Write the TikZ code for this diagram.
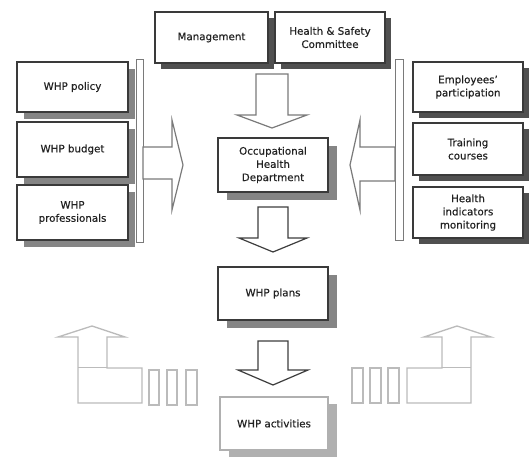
\documentclass[tikz,border=0pt]{standalone}
\usepackage{fontspec}
\setmainfont{DejaVu Sans}[FakeBold=0.4]
\usetikzlibrary{shadows}
\definecolor{boxline}{HTML}{3A3A3A}
\definecolor{txt}{HTML}{222222}
\definecolor{shdark}{HTML}{505050}
\definecolor{shmid}{HTML}{858585}
\definecolor{arrgray}{HTML}{7A7A7A}
\definecolor{arrdark}{HTML}{3E3E3E}
\definecolor{lightline}{HTML}{BBBBBB}
\definecolor{actline}{HTML}{B0B0B0}
\begin{document}
\begin{tikzpicture}[x=1pt,y=-1pt,
  box/.style={draw=boxline, line width=1.3pt, fill=white, align=center, text=txt,
    font=\fontsize{10.3}{13.2}\selectfont, inner sep=0pt},
  sdark/.style={general shadow={fill=shdark, shadow xshift=6pt, shadow yshift=-6pt}},
  smid/.style={general shadow={fill=shmid, shadow xshift=7pt, shadow yshift=-7pt}},
  scen/.style={general shadow={fill=shmid, shadow xshift=9pt, shadow yshift=-8pt}},
  bar/.style={draw=arrgray, line width=1pt, fill=white},
  blockarrow/.style={draw=arrgray, line width=1.2pt, fill=white, line join=miter},
  darkarrow/.style={draw=arrdark, line width=1.2pt, fill=white, line join=miter},
  larrow/.style={draw=lightline, line width=1.3pt, fill=white, line join=miter},
]
\useasboundingbox (0,0) rectangle (531,457);

% top boxes
\node[box, sdark, minimum width=113pt, minimum height=51pt] (mgmt) at (211.5,37.5) {Management};
\node[box, sdark, minimum width=110pt, minimum height=51pt] (hsc) at (330,37.5) {Health \& Safety\\Committee};

% left bar and boxes
\draw[bar] (136,60) rectangle (143,243);
\node[box, smid, minimum width=111pt, minimum height=50pt] (policy) at (72.5,87) {WHP policy};
\node[box, smid, minimum width=111pt, minimum height=55pt] (budget) at (72.5,149.5) {WHP budget};
\node[box, smid, minimum width=111pt, minimum height=55pt] (prof) at (72.5,212.5) {WHP\\professionals};

% right bar and boxes
\draw[bar] (395,60) rectangle (403,241);
\node[box, sdark, minimum width=110pt, minimum height=50pt] (emp) at (468,87) {Employees'\\participation};
\node[box, sdark, minimum width=110pt, minimum height=52pt] (train) at (468,149) {Training\\courses};
\node[box, sdark, minimum width=110pt, minimum height=51pt] (hind) at (468,212.5) {Health\\indicators\\monitoring};

% central column
\node[box, scen, line width=1.6pt, minimum width=110pt, minimum height=54pt] (ohd) at (273,165) {Occupational\\Health\\Department};
\node[box, scen, line width=1.6pt, minimum width=110pt, minimum height=53pt] (plans) at (273,293.5) {WHP plans};
\node[box, draw=actline, general shadow={fill=actline, shadow xshift=9pt, shadow yshift=-7pt},
      minimum width=108pt, minimum height=53pt] (act) at (274,423.5) {WHP activities};

% top down arrow
\draw[blockarrow] (256,74) -- (288,74) -- (288,115) -- (307,115) -- (272,128) -- (237,115) -- (256,115) -- cycle;
% left arrow (pointing right)
\draw[blockarrow] (143,147) -- (172,147) -- (172,120) -- (183,165) -- (172,210) -- (172,179) -- (143,179) -- cycle;
% right arrow (pointing left)
\draw[blockarrow] (395,147) -- (360,147) -- (360,120) -- (350,165) -- (360,210) -- (360,181) -- (395,181) -- cycle;
% arrow OHD -> plans
\draw[darkarrow] (258,207) -- (288,207) -- (288,238) -- (307,238) -- (273,252) -- (239,238) -- (258,238) -- cycle;
% arrow plans -> activities
\draw[darkarrow] (258,341) -- (288,341) -- (288,370) -- (308,370) -- (273,385) -- (238,370) -- (258,370) -- cycle;

% left L arrow
\draw[larrow] (92,326) -- (125,337) -- (107,337) -- (107,368) -- (142,368) -- (142,403) -- (78,403) -- (78,337) -- (58,337) -- cycle;
\draw[lightline, line width=0.6pt] (78,367) -- (107,367);
\draw[larrow] (149,370) rectangle (159,405);
\draw[larrow] (167,370) rectangle (177,405);
\draw[larrow] (186,370) rectangle (197,405);

% right L arrow
\draw[larrow] (457,326) -- (491,337) -- (471,337) -- (471,403) -- (407,403) -- (407,368) -- (442,368) -- (442,337) -- (424,337) -- cycle;
\draw[lightline, line width=0.6pt] (442,367) -- (471,367);
\draw[larrow] (352,368) rectangle (363,403);
\draw[larrow] (370,368) rectangle (381,403);
\draw[larrow] (388,368) rectangle (399,403);
\end{tikzpicture}
\end{document}
